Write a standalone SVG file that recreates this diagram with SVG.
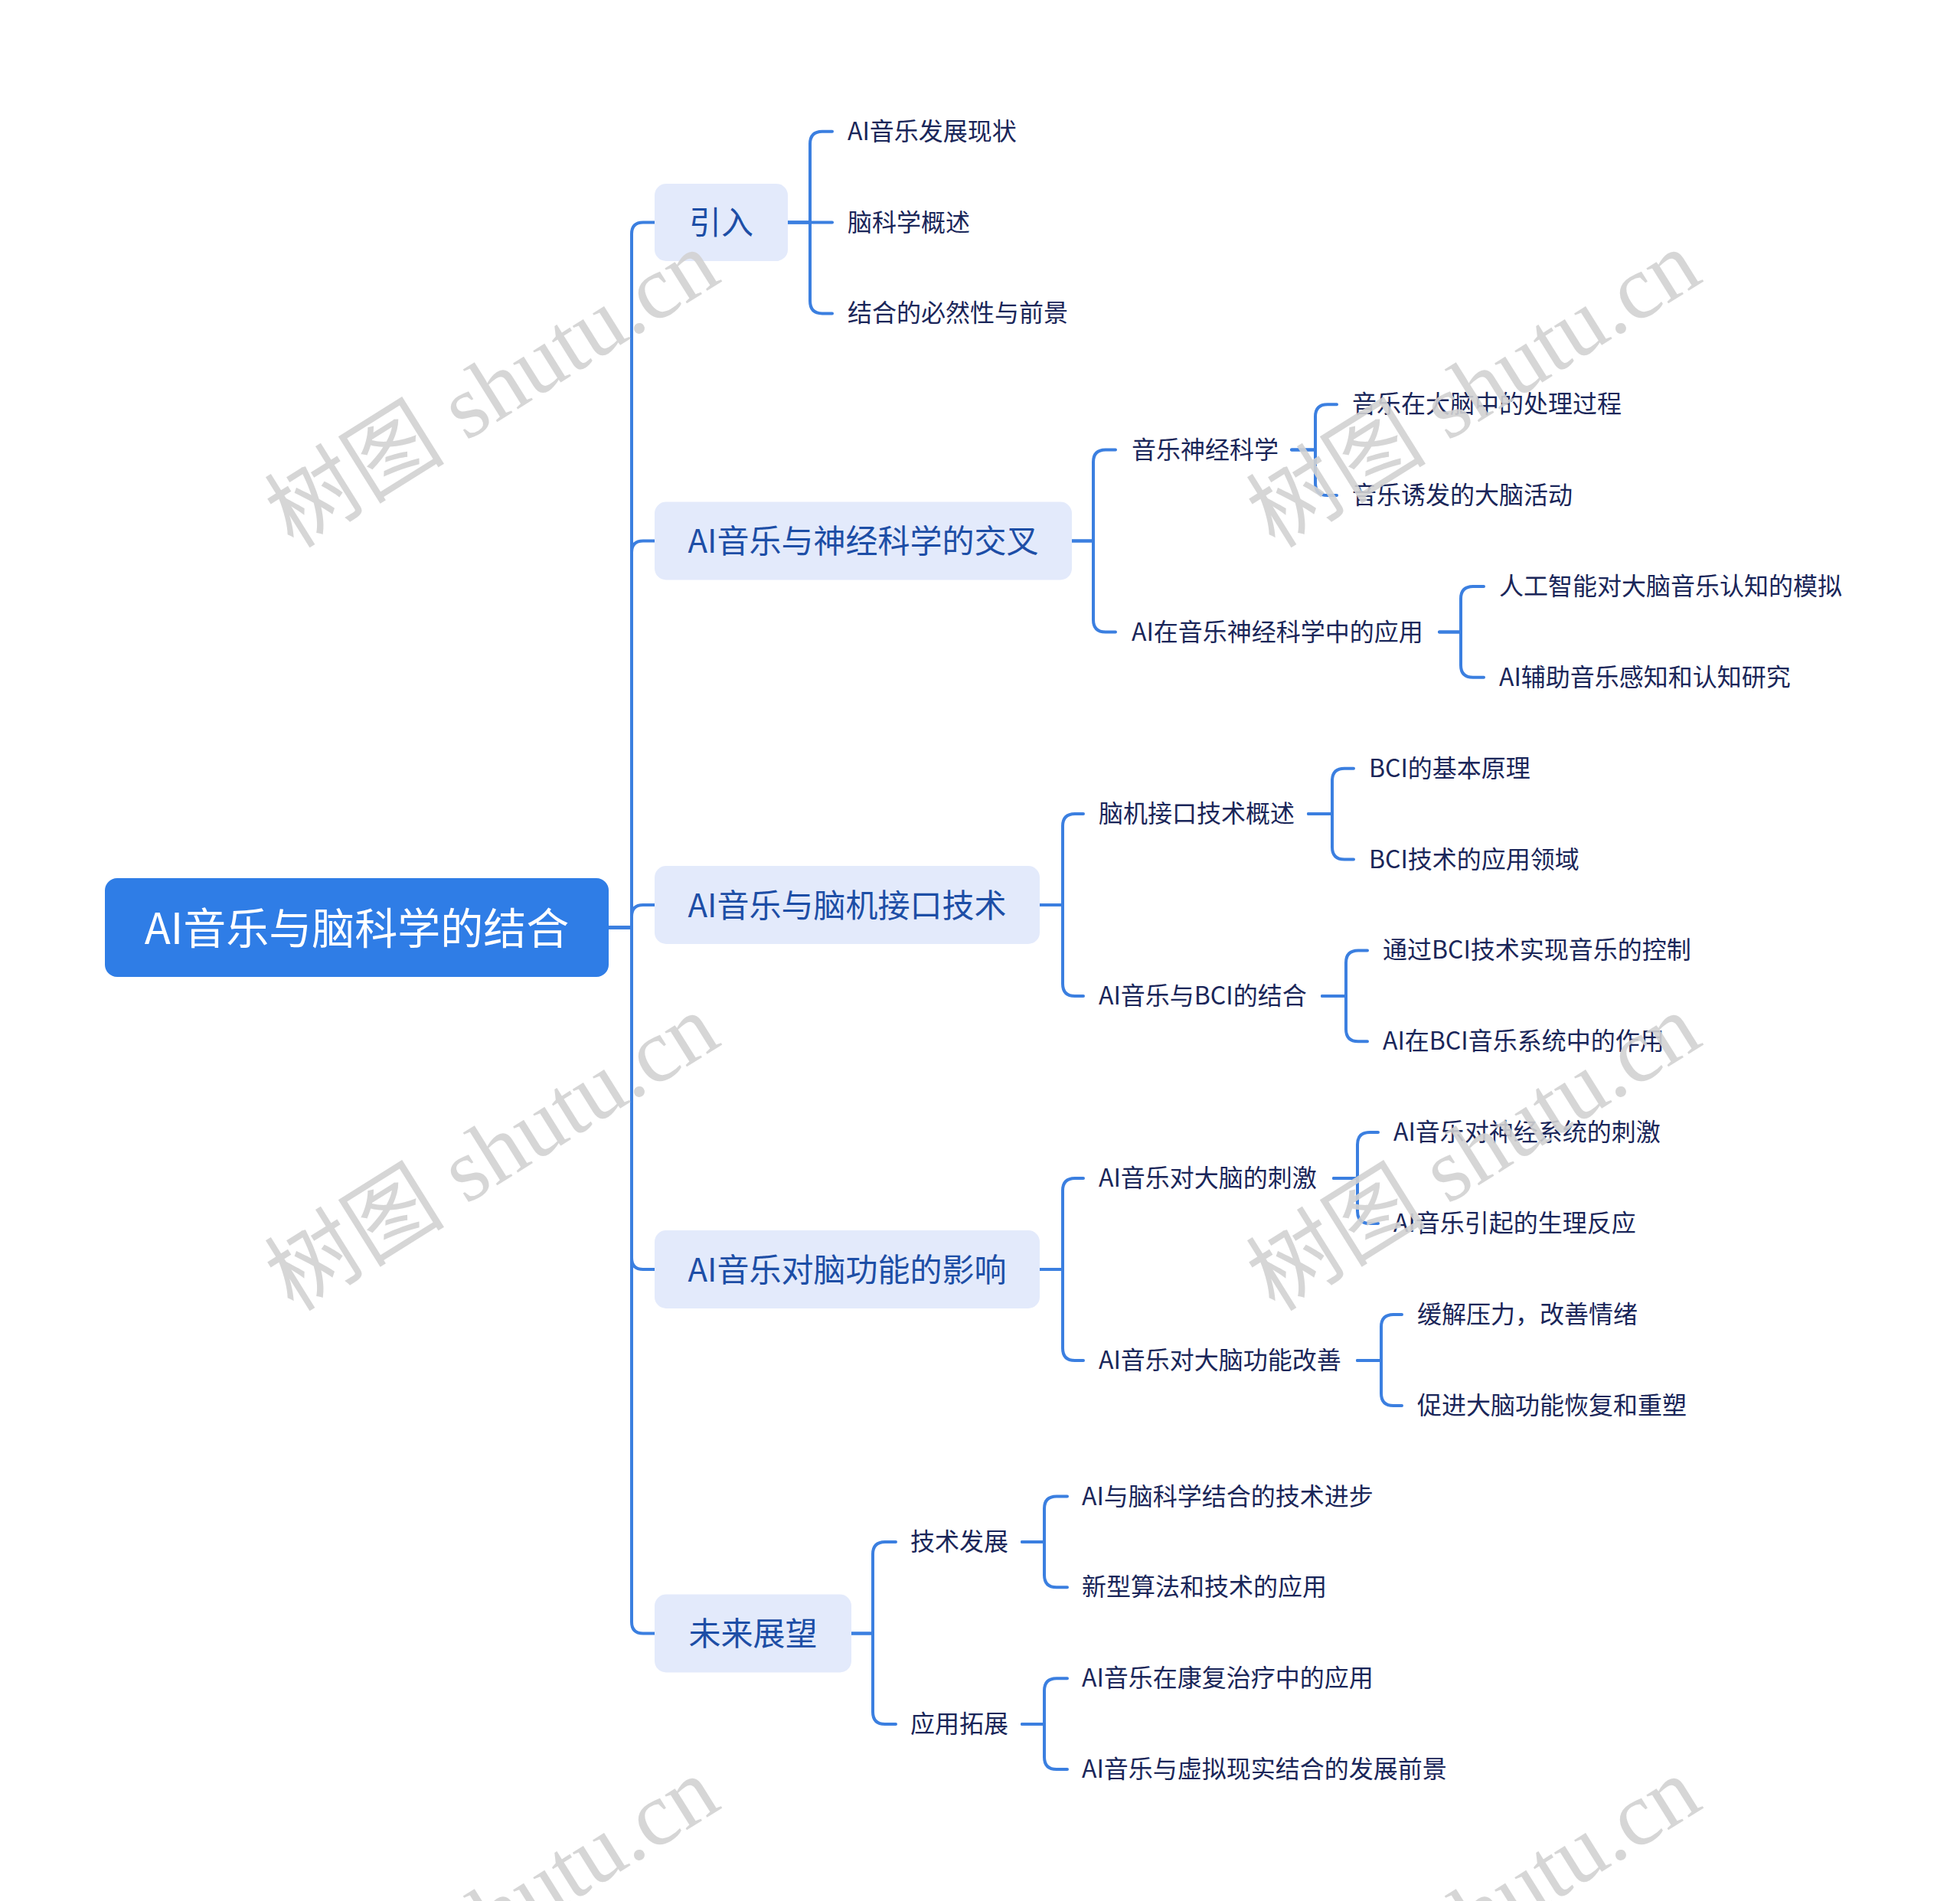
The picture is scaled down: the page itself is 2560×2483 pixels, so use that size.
<svg xmlns="http://www.w3.org/2000/svg" width="2560" height="2483" viewBox="0 0 2560 2483">
<style>
.wm{font-family:"Liberation Serif","Noto Sans CJK SC",serif;font-size:118px;fill:#d2d2d2;fill-opacity:0.9}
.root{fill:#2f7de6}
.rootT{font-family:"Noto Sans CJK SC",sans-serif;font-size:56px;fill:#ffffff}
.l1{fill:#e3eafb}
.l1T{font-family:"Noto Sans CJK SC",sans-serif;font-size:42px;fill:#1d4ea6}
.t{font-family:"Noto Sans CJK SC",sans-serif;font-size:32px;fill:#1a2659}
.c{fill:none;stroke:#3b7fe0;stroke-width:4;stroke-linecap:round;stroke-linejoin:round}
</style>
<rect width="2560" height="2483" fill="#ffffff"/>

<g id="connectors" class="c">
<path d="M795 1211.5 H825 V305.5 Q825 290.5 840 290.5 H855"/>
<path d="M795 1211.5 H825 V721.5 Q825 706.5 840 706.5 H855"/>
<path d="M795 1211.5 H825 V1197 Q825 1182 840 1182 H855"/>
<path d="M795 1211.5 H825 V1643 Q825 1658 840 1658 H855"/>
<path d="M795 1211.5 H825 V2118.5 Q825 2133.5 840 2133.5 H855"/>
<path d="M1029 290.5 H1058 V188 Q1058 171.7 1074 171.7 H1087"/>
<path d="M1029 290.5 H1087"/>
<path d="M1029 290.5 H1058 V393 Q1058 409.4 1074 409.4 H1087"/>
<path d="M1400 706.5 H1428 V603.5 Q1428 587.5 1444 587.5 H1457"/>
<path d="M1400 706.5 H1428 V809.5 Q1428 825.5 1444 825.5 H1457"/>
<path d="M1687 587.5 H1718 V544 Q1718 528.2 1734 528.2 H1746"/>
<path d="M1687 587.5 H1718 V631 Q1718 647.1 1734 647.1 H1746"/>
<path d="M1880 825.5 H1908 V782 Q1908 766 1924 766 H1938"/>
<path d="M1880 825.5 H1908 V869 Q1908 884.8 1924 884.8 H1938"/>
<path d="M1358 1182 H1388 V1079 Q1388 1063 1404 1063 H1415"/>
<path d="M1358 1182 H1388 V1285 Q1388 1301 1404 1301 H1415"/>
<path d="M1709 1063 H1740 V1019.7 Q1740 1003.7 1756 1003.7 H1768"/>
<path d="M1709 1063 H1740 V1106.5 Q1740 1122.5 1756 1122.5 H1768"/>
<path d="M1727 1301 H1758 V1257.4 Q1758 1241.4 1774 1241.4 H1786"/>
<path d="M1727 1301 H1758 V1344.2 Q1758 1360.2 1774 1360.2 H1786"/>
<path d="M1358 1658 H1388 V1555 Q1388 1539 1404 1539 H1415"/>
<path d="M1358 1658 H1388 V1761 Q1388 1777 1404 1777 H1415"/>
<path d="M1742 1539 H1773 V1495 Q1773 1479 1789 1479 H1800"/>
<path d="M1742 1539 H1773 V1582 Q1773 1598 1789 1598 H1800"/>
<path d="M1773 1777 H1804 V1733 Q1804 1717 1820 1717 H1831"/>
<path d="M1773 1777 H1804 V1820 Q1804 1836 1820 1836 H1831"/>
<path d="M1112 2133.5 H1140 V2030 Q1140 2014 1156 2014 H1170"/>
<path d="M1112 2133.5 H1140 V2236 Q1140 2252 1156 2252 H1170"/>
<path d="M1335 2014 H1364 V1970.5 Q1364 1954.5 1380 1954.5 H1394"/>
<path d="M1335 2014 H1364 V2057.3 Q1364 2073.3 1380 2073.3 H1394"/>
<path d="M1335 2252 H1364 V2208.2 Q1364 2192.2 1380 2192.2 H1394"/>
<path d="M1335 2252 H1364 V2295 Q1364 2311 1380 2311 H1394"/>
</g>

<g id="root">
<rect class="root" x="137" y="1147" width="658" height="129" rx="16"/>
<text class="rootT" x="466" y="1208.5" text-anchor="middle" dominant-baseline="central">AI音乐与脑科学的结合</text>
</g>

<g id="n-yinru">
<rect class="l1" x="855" y="240" width="174" height="101" rx="15"/>
<text class="l1T" x="942" y="287.5" text-anchor="middle" dominant-baseline="central">引入</text>
</g>
<g id="n-jiaocha">
<rect class="l1" x="855" y="655.5" width="545" height="102" rx="15"/>
<text class="l1T" x="1127.5" y="703.5" text-anchor="middle" dominant-baseline="central">AI音乐与神经科学的交叉</text>
</g>
<g id="n-naoji">
<rect class="l1" x="855" y="1131" width="503" height="102" rx="15"/>
<text class="l1T" x="1106.5" y="1179" text-anchor="middle" dominant-baseline="central">AI音乐与脑机接口技术</text>
</g>
<g id="n-naogongneng">
<rect class="l1" x="855" y="1607" width="503" height="102" rx="15"/>
<text class="l1T" x="1106.5" y="1655" text-anchor="middle" dominant-baseline="central">AI音乐对脑功能的影响</text>
</g>
<g id="n-weilai">
<rect class="l1" x="855" y="2082.5" width="257" height="102" rx="15"/>
<text class="l1T" x="983.5" y="2130.5" text-anchor="middle" dominant-baseline="central">未来展望</text>
</g>

<g id="n-a1"><text class="t" x="1107" y="168.7" dominant-baseline="central">AI音乐发展现状</text></g>
<g id="n-a2"><text class="t" x="1107" y="287.5" dominant-baseline="central">脑科学概述</text></g>
<g id="n-a3"><text class="t" x="1107" y="406.4" dominant-baseline="central">结合的必然性与前景</text></g>

<g id="n-b1"><text class="t" x="1478" y="584.5" dominant-baseline="central">音乐神经科学</text></g>
<g id="n-b11"><text class="t" x="1766" y="525.2" dominant-baseline="central">音乐在大脑中的处理过程</text></g>
<g id="n-b12"><text class="t" x="1766" y="644.1" dominant-baseline="central">音乐诱发的大脑活动</text></g>
<g id="n-b2"><text class="t" x="1478" y="822.5" dominant-baseline="central">AI在音乐神经科学中的应用</text></g>
<g id="n-b21"><text class="t" x="1958" y="763" dominant-baseline="central">人工智能对大脑音乐认知的模拟</text></g>
<g id="n-b22"><text class="t" x="1958" y="881.8" dominant-baseline="central">AI辅助音乐感知和认知研究</text></g>

<g id="n-c1"><text class="t" x="1435" y="1060" dominant-baseline="central">脑机接口技术概述</text></g>
<g id="n-c11"><text class="t" x="1788" y="1000.7" dominant-baseline="central">BCI的基本原理</text></g>
<g id="n-c12"><text class="t" x="1788" y="1119.5" dominant-baseline="central">BCI技术的应用领域</text></g>
<g id="n-c2"><text class="t" x="1435" y="1298" dominant-baseline="central">AI音乐与BCI的结合</text></g>
<g id="n-c21"><text class="t" x="1806" y="1238.4" dominant-baseline="central">通过BCI技术实现音乐的控制</text></g>
<g id="n-c22"><text class="t" x="1806" y="1357.2" dominant-baseline="central">AI在BCI音乐系统中的作用</text></g>

<g id="n-d1"><text class="t" x="1435" y="1536" dominant-baseline="central">AI音乐对大脑的刺激</text></g>
<g id="n-d11"><text class="t" x="1820" y="1476" dominant-baseline="central">AI音乐对神经系统的刺激</text></g>
<g id="n-d12"><text class="t" x="1820" y="1595" dominant-baseline="central">AI音乐引起的生理反应</text></g>
<g id="n-d2"><text class="t" x="1435" y="1774" dominant-baseline="central">AI音乐对大脑功能改善</text></g>
<g id="n-d21"><text class="t" x="1851" y="1714" dominant-baseline="central">缓解压力，改善情绪</text></g>
<g id="n-d22"><text class="t" x="1851" y="1833" dominant-baseline="central">促进大脑功能恢复和重塑</text></g>

<g id="n-e1"><text class="t" x="1189" y="2011" dominant-baseline="central">技术发展</text></g>
<g id="n-e11"><text class="t" x="1413" y="1951.5" dominant-baseline="central">AI与脑科学结合的技术进步</text></g>
<g id="n-e12"><text class="t" x="1413" y="2070.3" dominant-baseline="central">新型算法和技术的应用</text></g>
<g id="n-e2"><text class="t" x="1189" y="2249" dominant-baseline="central">应用拓展</text></g>
<g id="n-e21"><text class="t" x="1413" y="2189.2" dominant-baseline="central">AI音乐在康复治疗中的应用</text></g>
<g id="n-e22"><text class="t" x="1413" y="2308" dominant-baseline="central">AI音乐与虚拟现实结合的发展前景</text></g>

<g id="watermarks">
<text class="wm" x="664" y="542" text-anchor="middle" transform="rotate(-32 664 542)">树图 shutu.cn</text>
<text class="wm" x="1946" y="542" text-anchor="middle" transform="rotate(-32 1946 542)">树图 shutu.cn</text>
<text class="wm" x="664" y="1539" text-anchor="middle" transform="rotate(-32 664 1539)">树图 shutu.cn</text>
<text class="wm" x="1946" y="1539" text-anchor="middle" transform="rotate(-32 1946 1539)">树图 shutu.cn</text>
<text class="wm" x="664" y="2536" text-anchor="middle" transform="rotate(-32 664 2536)">树图 shutu.cn</text>
<text class="wm" x="1946" y="2536" text-anchor="middle" transform="rotate(-32 1946 2536)">树图 shutu.cn</text>
</g>
</svg>
